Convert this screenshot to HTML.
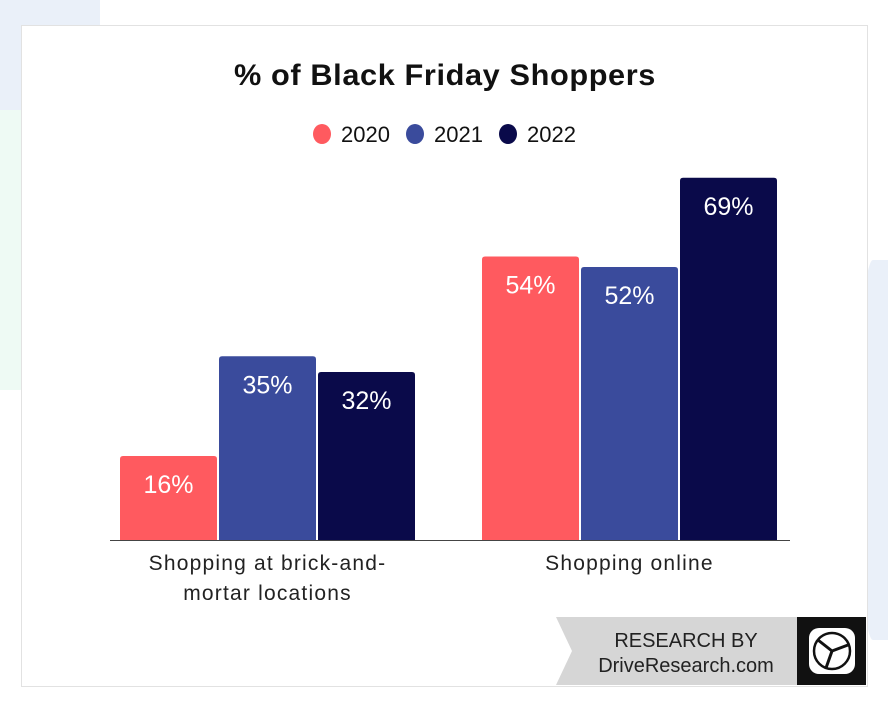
<!DOCTYPE html>
<html><head><meta charset="utf-8"><style>
body{margin:0;width:888px;height:708px;background:#fff;position:relative;overflow:hidden;font-family:"Liberation Sans",sans-serif}
.blob{position:absolute;border-radius:50%}
</style></head><body>
<div class="blob" style="left:0;top:0;width:100px;height:120px;border-radius:0 0 50% 0;background:#eaf0f9"></div>
<div class="blob" style="left:0;top:110px;width:40px;height:280px;border-radius:0 50% 50% 0;background:#eefaf4"></div>
<div class="blob" style="left:858px;top:260px;width:30px;height:380px;border-radius:50% 0 0 50%;background:#eaf0f9"></div>
<div style="position:absolute;left:21px;top:25px;width:845px;height:660px;background:#fff;border:1px solid #e2e2e2"></div>
<svg id="c" width="888" height="708" style="position:absolute;left:0;top:0">
<text x="445" y="85" text-anchor="middle" font-size="30" font-weight="bold" fill="#111" letter-spacing="0.6" textLength="422" lengthAdjust="spacingAndGlyphs" font-family="Liberation Sans, sans-serif">% of Black Friday Shoppers</text>
<g id="legend"></g><g id="bars"></g>
<line x1="110" y1="540.5" x2="790" y2="540.5" stroke="#444" stroke-width="1"/>
<g id="cats"></g>
<polygon points="556,617 797,617 797,685 556,685 572,651" fill="#d6d6d6"/>
<text x="686" y="647" text-anchor="middle" font-size="20" fill="#222">RESEARCH BY</text>
<text x="686" y="672" text-anchor="middle" font-size="20" fill="#222">DriveResearch.com</text>
<rect x="797" y="617" width="69" height="68" fill="#111"/>
<rect x="809" y="628" width="46" height="46" rx="10" fill="#fff"/>
<circle cx="832" cy="651" r="18" fill="none" stroke="#111" stroke-width="2.5"/>
<path d="M832 651 L818 640 M832 651 L848 645 M832 651 L826 668" stroke="#111" stroke-width="3"/>
</svg>
<script>
const categories=["Shopping at brick-and-|mortar locations","Shopping online"];
const years=["2020","2021","2022"];
const colors=["#ff5a5f","#3a4b9c","#0a0a4a"];
const s2020=[16,54];
const s2021=[35,52];
const s2022=[32,69];
const series=[s2020,s2021,s2022];
const NS="http://www.w3.org/2000/svg";
const base=540,scale=5.25;
function y(v){return base-v*scale;}
const groupX=[120,482],bw=97,gap=2;
const bars=document.getElementById('bars');
series.forEach((s,si)=>s.forEach((v,ci)=>{
 const x=groupX[ci]+si*(bw+gap);
 const r=document.createElementNS(NS,'path');
 const t=y(v),rr=3;
 r.setAttribute('d',`M${x} ${base}V${t+rr}Q${x} ${t} ${x+rr} ${t}H${x+bw-rr}Q${x+bw} ${t} ${x+bw} ${t+rr}V${base}Z`);
 r.setAttribute('fill',colors[si]);
 
 
 bars.appendChild(r);
 const tx=document.createElementNS(NS,'text');
 tx.setAttribute('x',x+bw/2);tx.setAttribute('y',t+37);
 tx.setAttribute('text-anchor','middle');tx.setAttribute('font-size','25');tx.setAttribute('fill','#fff');
 
 
 tx.textContent=v+'%';bars.appendChild(tx);
}));
const cats=document.getElementById('cats');
categories.forEach((c,ci)=>{
 c.split('|').forEach((line,li)=>{
  const tx=document.createElementNS(NS,'text');
  tx.setAttribute('x',groupX[ci]+1.5*bw+gap);tx.setAttribute('y',570+li*30);
  tx.setAttribute('text-anchor','middle');tx.setAttribute('font-size','21');tx.setAttribute('fill','#222');
  tx.setAttribute('letter-spacing','1.2');
  
  
  tx.textContent=line;cats.appendChild(tx);
 });
});
const lg=document.getElementById('legend');
const lx=[322,415,508];
years.forEach((yr,i)=>{
 const e=document.createElementNS(NS,'ellipse');
 e.setAttribute('cx',lx[i]);e.setAttribute('cy',134);e.setAttribute('rx',9);e.setAttribute('ry',10);e.setAttribute('fill',colors[i]);
 
 
 lg.appendChild(e);
 const t=document.createElementNS(NS,'text');
 t.setAttribute('x',lx[i]+19);t.setAttribute('y',142);t.setAttribute('font-size','22');t.setAttribute('fill','#111');
 
 
 t.textContent=yr;lg.appendChild(t);
});
</script>
</body></html>
